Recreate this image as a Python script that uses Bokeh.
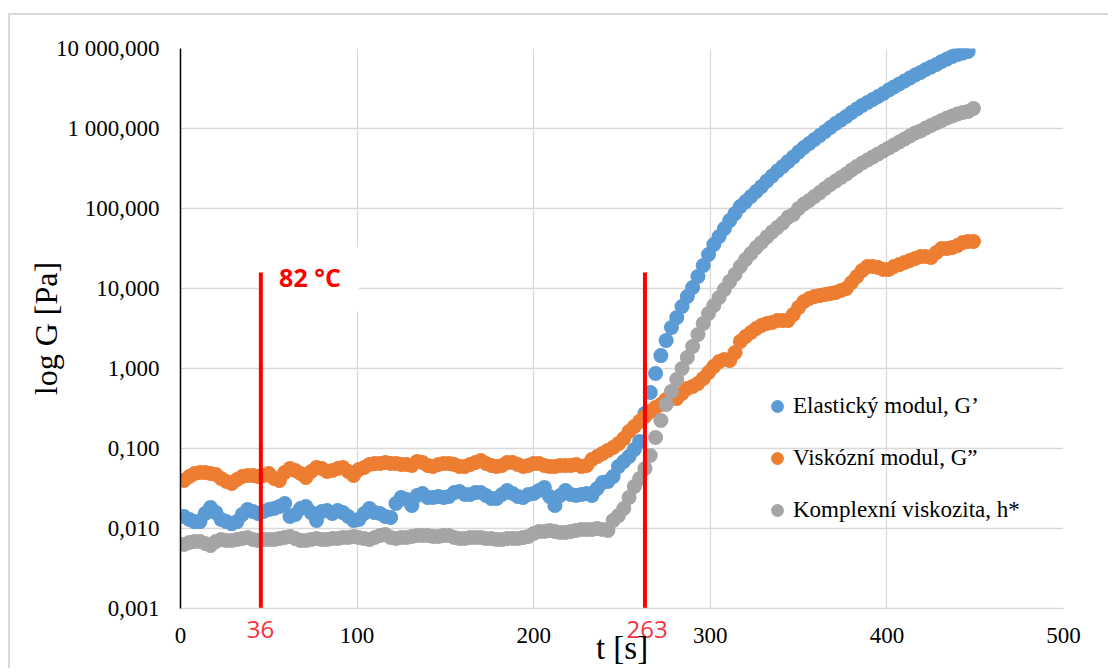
from bokeh.plotting import figure
from bokeh.models import FixedTicker, Label, Legend, LegendItem, LinearAxis
from bokeh.embed import file_html
from bokeh.resources import INLINE

# ---------------- data ----------------
time_s = list(range(2, 451, 3))  # measurement every 3 s

elastic_G1 = [
    0.0141, 0.0130, 0.0122, 0.0122, 0.0154, 0.0183, 0.0158, 0.0130, 0.0122, 0.0115,
    0.0122, 0.0150, 0.0173, 0.0163, 0.0154, 0.0163, 0.0173, 0.0178, 0.0188, 0.0205,
    0.0141, 0.0150, 0.0178, 0.0188, 0.0158, 0.0126, 0.0163, 0.0168, 0.0154, 0.0168,
    0.0158, 0.0141, 0.0126, 0.0130, 0.0154, 0.0178, 0.0158, 0.0154, 0.0141, 0.0137,
    0.0205, 0.0244, 0.0230, 0.0194, 0.0259, 0.0274, 0.0244, 0.0244, 0.0251, 0.0244,
    0.0251, 0.0282, 0.0290, 0.0266, 0.0266, 0.0282, 0.0282, 0.0259, 0.0237, 0.0237,
    0.0266, 0.0299, 0.0274, 0.0251, 0.0244, 0.0266, 0.0274, 0.0299, 0.0326, 0.0251,
    0.0194, 0.0259, 0.0299, 0.0266, 0.0259, 0.0266, 0.0274, 0.0259, 0.0316, 0.0376,
    0.0387, 0.0447, 0.0596, 0.0688, 0.0794, 0.0971, 0.122, 0.274, 0.501, 0.866,
    1.45, 2.24, 3.25, 4.34, 5.96, 7.94, 10.3, 14.1, 19.4, 26.6,
    35.5, 44.7, 56.2, 70.8, 86.6, 106, 122, 141, 163, 188,
    221, 255, 294, 335, 385, 440, 508, 579, 649, 729,
    818, 917, 1029, 1155, 1277, 1413, 1585, 1753, 1938, 2113,
    2304, 2512, 2738, 3028, 3302, 3599, 3925, 4279, 4666, 5012,
    5464, 5873, 6310, 6879, 7393, 7943, 8414, 8783, 9173,
]

viscous_G2 = [
    0.0398, 0.0447, 0.0487, 0.0501, 0.0501, 0.0487, 0.0473, 0.0422, 0.0387, 0.0365,
    0.0410, 0.0447, 0.0460, 0.0460, 0.0447, 0.0460, 0.0487, 0.0422, 0.0398, 0.0501,
    0.0562, 0.0531, 0.0487, 0.0434, 0.0516, 0.0579, 0.0562, 0.0516, 0.0531, 0.0562,
    0.0579, 0.0516, 0.0460, 0.0546, 0.0579, 0.0631, 0.0649, 0.0649, 0.0668, 0.0649,
    0.0649, 0.0631, 0.0631, 0.0613, 0.0688, 0.0668, 0.0613, 0.0596, 0.0631, 0.0649,
    0.0649, 0.0631, 0.0596, 0.0596, 0.0631, 0.0668, 0.0708, 0.0649, 0.0613, 0.0596,
    0.0613, 0.0668, 0.0668, 0.0631, 0.0596, 0.0613, 0.0649, 0.0649, 0.0613, 0.0596,
    0.0596, 0.0613, 0.0613, 0.0613, 0.0631, 0.0596, 0.0613, 0.0729, 0.0794, 0.0866,
    0.0944, 0.103, 0.115, 0.133, 0.163, 0.188, 0.218, 0.251, 0.290, 0.326,
    0.355, 0.410, 0.422, 0.422, 0.487, 0.562, 0.596, 0.649, 0.750, 0.891,
    1.06, 1.22, 1.30, 1.26, 1.58, 2.18, 2.51, 2.82, 3.16, 3.45,
    3.65, 3.76, 3.98, 3.98, 3.98, 4.73, 5.79, 6.88, 7.50, 7.94,
    8.18, 8.41, 8.66, 8.91, 9.44, 10.0, 11.9, 14.1, 16.8, 18.8,
    18.8, 18.3, 17.3, 17.3, 18.8, 19.9, 21.1, 22.4, 23.7, 25.1,
    25.1, 24.4, 28.2, 31.6, 31.6, 32.5, 34.5, 37.6, 38.7, 38.7,
]

complex_h = [
    0.00631, 0.00668, 0.00688, 0.00688, 0.00649, 0.00613, 0.00688, 0.00729, 0.00708, 0.00708,
    0.00729, 0.00750, 0.00772, 0.00729, 0.00708, 0.00729, 0.00729, 0.00729, 0.00750, 0.00772,
    0.00794, 0.00750, 0.00708, 0.00708, 0.00729, 0.00750, 0.00729, 0.00729, 0.00750, 0.00750,
    0.00772, 0.00772, 0.00794, 0.00772, 0.00750, 0.00729, 0.00772, 0.00818, 0.00841, 0.00772,
    0.00750, 0.00772, 0.00772, 0.00794, 0.00818, 0.00818, 0.00818, 0.00794, 0.00794, 0.00818,
    0.00818, 0.00772, 0.00750, 0.00750, 0.00772, 0.00772, 0.00772, 0.00750, 0.00750, 0.00729,
    0.00729, 0.00750, 0.00750, 0.00750, 0.00772, 0.00794, 0.00866, 0.00917, 0.00917, 0.00944,
    0.00917, 0.00891, 0.00891, 0.00917, 0.00944, 0.00972, 0.00972, 0.00972, 0.0100, 0.00972,
    0.00944, 0.0126, 0.0145, 0.0178, 0.0244, 0.0335, 0.0422, 0.0562, 0.0818, 0.137,
    0.224, 0.355, 0.516, 0.729, 1.00, 1.37, 1.88, 2.66, 3.65, 4.87,
    6.13, 7.72, 9.72, 12.2, 15.0, 18.8, 23.0, 27.4, 32.5, 37.6,
    44.0, 50.8, 57.9, 65.9, 77.6, 84.1, 100, 114, 126, 141,
    158, 178, 200, 221, 244, 270, 303, 335, 370, 404,
    440, 480, 523, 571, 622, 678, 739, 806, 879, 931,
    1015, 1090, 1172, 1259, 1353, 1433, 1518, 1585, 1631, 1778,
]

series_names = ["Elastický modul, G\u2019", "Viskózní modul, G\u201d", "Komplexní viskozita, h*"]
series_colors = ["#5b9bd5", "#ed7d31", "#a5a5a5"]

x_ticks = [0, 100, 200, 300, 400, 500]
y_ticks = [0.001, 0.01, 0.1, 1, 10, 100, 1000, 10000]
y_tick_labels = ["0,001", "0,010", "0,100", "1,000", "10,000", "100,000", "1 000,000", "10 000,000"]

marker_t = [45.5, 263.0]          # red vertical lines (s)
marker_label_t = [45.3, 264.2]    # where their red labels sit
marker_texts = ["36", "263"]
marker_top = 15.8
temp_text = "82 °C"

# ---------------- figure ----------------
SERIF = "Liberation Serif"
p = figure(frame_width=883, frame_height=560, x_range=(0, 500), y_range=(0.001, 10000),
           y_axis_type="log", output_backend="svg", toolbar_location=None,
           min_border_left=170, min_border_right=45, min_border_top=33, min_border_bottom=60)
p.styles = {"margin-left": "8px", "margin-top": "13px",
            "border-left": "2px solid #d9d9d9", "border-top": "2px solid #d9d9d9"}
p.outline_line_color = None
p.background_fill_color = "white"
p.border_fill_color = "white"

xax = p.xaxis[0]
yax = p.yaxis[0]
xax.ticker = FixedTicker(ticks=x_ticks, minor_ticks=[])
yax.ticker = FixedTicker(ticks=y_ticks, minor_ticks=[])
yax.major_label_overrides = dict(zip(y_ticks, y_tick_labels))

for ax in (xax, yax):
    ax.major_tick_line_color = None
    ax.minor_tick_line_color = None
    ax.major_tick_out = 0
    ax.major_tick_in = 0
    ax.major_label_text_font = SERIF
    ax.major_label_text_font_size = "23px"
    ax.major_label_text_color = "black"
xax.major_label_standoff = 19
yax.major_label_standoff = 21
yax.axis_line_color = "black"
yax.axis_line_width = 1.5
xax.axis_line_color = "#d9d9d9"
xax.axis_line_width = 1.3

yax.axis_label = "log G [Pa]"
yax.axis_label_text_font = SERIF
yax.axis_label_text_font_size = "32px"
yax.axis_label_text_font_style = "normal"
yax.axis_label_text_color = "black"
yax.axis_label_standoff = -11

# second bottom axis: red labels of the marker lines + x title
ax2 = LinearAxis(ticker=FixedTicker(ticks=marker_label_t, minor_ticks=[]),
                 major_label_overrides=dict(zip(marker_label_t, marker_texts)),
                 axis_line_color=None, major_tick_line_color=None, minor_tick_line_color=None,
                 major_tick_out=0, major_tick_in=0,
                 major_label_text_color="#f5333f", major_label_text_font="Open Sans",
                 major_label_text_font_size="24px", major_label_standoff=-25,
                 axis_label="t [s]", axis_label_text_font=SERIF, axis_label_text_font_size="33px",
                 axis_label_text_font_style="normal", axis_label_text_color="black",
                 axis_label_standoff=-11)
p.add_layout(ax2, "below")

p.xgrid.grid_line_color = "#d9d9d9"
p.ygrid.grid_line_color = "#d9d9d9"
p.xgrid.grid_line_width = 1.3
p.ygrid.grid_line_width = 1.3

# white text box behind the temperature label
box_left, box_right, box_bottom, box_top = 44.2, 101.0, 5.16, 32.8
p.quad(left=[box_left], right=[box_right], bottom=[box_bottom], top=[box_top],
       fill_color="white", line_color=None)

# series
r_blue = p.scatter(time_s[:len(elastic_G1)], elastic_G1, size=15,
                   fill_color=series_colors[0], line_color=None)
r_orange = p.scatter(time_s[:len(viscous_G2)], viscous_G2, size=15,
                     fill_color=series_colors[1], line_color=None)
r_gray = p.scatter(time_s[:len(complex_h)], complex_h, size=15,
                   fill_color=series_colors[2], line_color=None)

# red vertical lines
p.segment(x0=marker_t, y0=[0.001] * len(marker_t), x1=marker_t, y1=[marker_top] * len(marker_t),
          line_color="#ff0000", line_width=4)

# legend
legend = Legend(items=[LegendItem(label=series_names[0], renderers=[r_blue]),
                       LegendItem(label=series_names[1], renderers=[r_orange]),
                       LegendItem(label=series_names[2], renderers=[r_gray])],
                location=(581, 79), orientation="vertical",
                glyph_width=32, glyph_height=38, label_standoff=0, spacing=14,
                padding=0, margin=0, border_line_color=None, background_fill_alpha=0,
                label_text_font=SERIF, label_text_font_size="23px", label_text_color="black")
p.add_layout(legend)

# temperature label
p.add_layout(Label(x=73.3, y=13.9, text=temp_text, text_font="Open Sans", text_font_style="bold",
                   text_font_size="25px", text_color="#ff0000", text_align="center",
                   text_baseline="middle"))

open("out.html", "w").write(file_html(p, INLINE))
